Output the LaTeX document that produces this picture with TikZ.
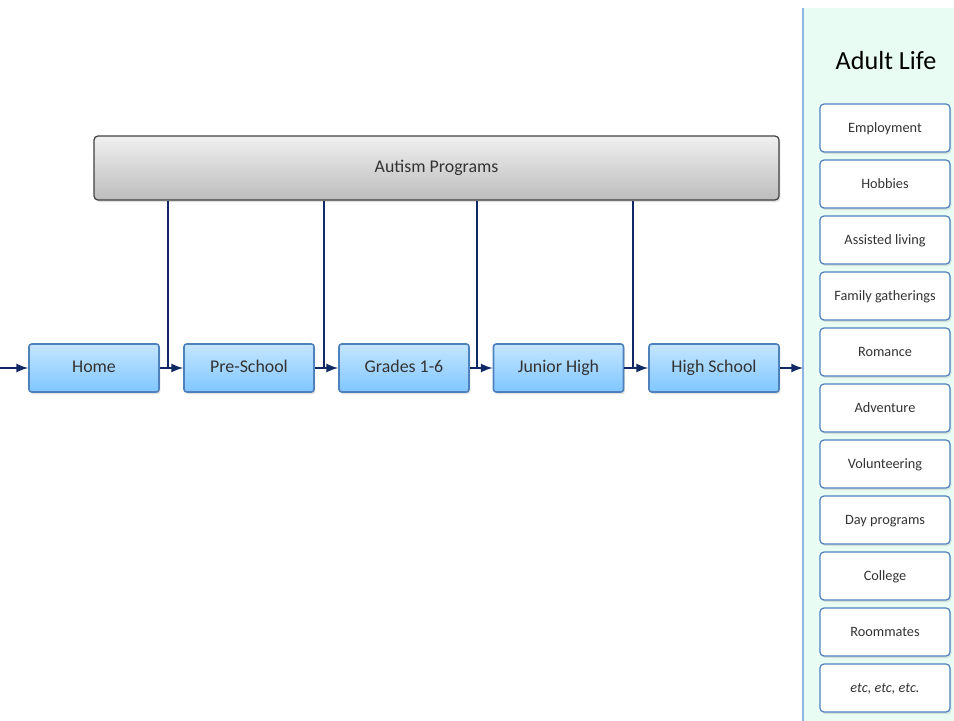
\documentclass[tikz,border=0pt]{standalone}
\usepackage{fontspec}
\setmainfont{Carlito}
\usetikzlibrary{shadows}

\definecolor{navy}{RGB}{16,40,100}
\definecolor{boxedge}{RGB}{79,129,189}
\definecolor{boxtop}{RGB}{196,230,255}
\definecolor{boxbot}{RGB}{128,198,255}
\definecolor{mint}{RGB}{232,252,244}
\definecolor{panedge}{RGB}{141,180,226}

\tikzset{
	stage/.style = {draw = boxedge, line width = 1.2pt, rounded corners = 2pt,
		top color = boxtop, bottom color = boxbot,
		minimum width = 97.5pt, minimum height = 36pt,
		text height = 1.5ex, text depth = 0.1ex,
		font = \fontsize{13.4}{16}\selectfont, text = black!80,
		drop shadow = {opacity = 0.25, shadow xshift = 1pt, shadow yshift = -1.5pt}},
	adult/.style = {draw = boxedge, line width = 0.9pt, rounded corners = 3pt, fill = white,
		minimum width = 97.5pt, minimum height = 36pt,
		text height = 1.5ex, text depth = 0.1ex,
		font = \fontsize{10.7}{13}\selectfont, text = black!80,
		drop shadow = {opacity = 0.2, shadow xshift = 1pt, shadow yshift = -1.5pt}},
	flow/.style = {-latex, draw = navy, line width = 2pt},
	link/.style = {draw = navy, line width = 0.9pt}
}

\begin{document}
\begin{tikzpicture}[x = 0.75pt, y = -0.75pt]
	\useasboundingbox (0,0) rectangle (954,721);

	% adult life panel
	\fill[mint] (803,8) rectangle (954,721);
	\draw[panedge, line width = 1.5pt] (803,8) -- (803,721);
	\node[font = \fontsize{19.6}{24}\selectfont] (adult) at (886,61) {Adult Life};

	\foreach \name [count = \i from 0] in {Employment, Hobbies, Assisted living,
		Family gatherings, Romance, Adventure, Volunteering, Day programs,
		College, Roommates, \textit{etc, etc, etc.}}
		\node[adult] (a\i) at (885,128+56*\i) {\name};

	% programs
	\node[draw = black!75, line width = 0.9pt, rounded corners = 3pt,
		top color = black!6, bottom color = black!26,
		minimum width = 513.75pt, minimum height = 48pt,
		font = \fontsize{13.4}{16}\selectfont, text = black!80,
		drop shadow = {opacity = 0.25, shadow xshift = 1pt, shadow yshift = -1.5pt}]
		(autism) at (436.5,168) {Autism Programs};

	% stages
	\node[stage] (home) at (94,368) {Home};
	\node[stage] (pre) at (249,368) {Pre-School};
	\node[stage] (grades) at (404,368) {Grades 1-6};
	\node[stage] (junior) at (558.5,368) {Junior High};
	\node[stage] (high) at (714,368) {High School};

	\coordinate (start) at (0,368);
	\coordinate (panel) at (803,368);
	\coordinate (j1) at (168,368);
	\coordinate (j2) at (324,368);
	\coordinate (j3) at (477,368);
	\coordinate (j4) at (633,368);

	\draw[link] (autism.south -| j1) -- (j1);
	\draw[link] (autism.south -| j2) -- (j2);
	\draw[link] (autism.south -| j3) -- (j3);
	\draw[link] (autism.south -| j4) -- (j4);

	\draw[flow] (start) -- (home);
	\draw[flow] (home) -- (pre);
	\draw[flow] (pre) -- (grades);
	\draw[flow] (grades) -- (junior);
	\draw[flow] (junior) -- (high);
	\draw[flow] (high) -- (panel);
\end{tikzpicture}
\end{document}
